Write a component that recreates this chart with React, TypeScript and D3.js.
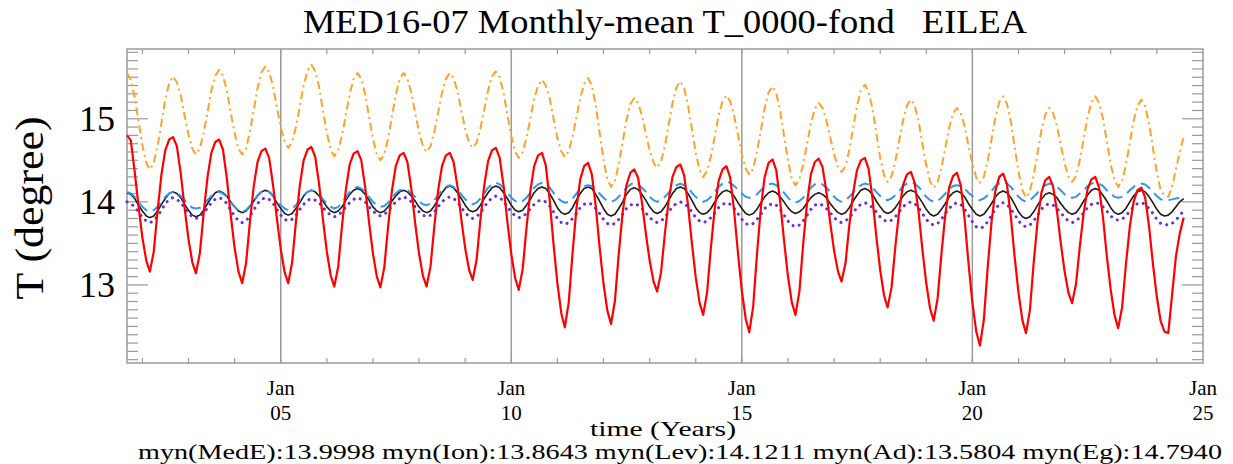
import React, { useRef, useEffect } from 'react';
import * as d3 from 'd3';

// monthly means, first value = Sep 2001, last = Aug 2024
const startMonth = new Date(2001, 8, 1);

// myn(Ad) - red solid
const adValues = [
  14.80, 14.74, 14.36, 13.95,
  13.57, 13.29, 13.16, 13.40, 13.89, 14.33, 14.62, 14.75, 14.78, 14.67, 14.34, 13.93,
  13.55, 13.27, 13.14, 13.38, 13.86, 14.30, 14.59, 14.72, 14.75, 14.63, 14.28, 13.85,
  13.45, 13.16, 13.02, 13.26, 13.75, 14.19, 14.48, 14.61, 14.64, 14.53, 14.20, 13.80,
  13.43, 13.15, 13.02, 13.27, 13.76, 14.20, 14.50, 14.63, 14.66, 14.54, 14.21, 13.79,
  13.40, 13.11, 12.98, 13.22, 13.71, 14.15, 14.45, 14.58, 14.61, 14.50, 14.17, 13.76,
  13.38, 13.10, 12.97, 13.21, 13.70, 14.14, 14.43, 14.56, 14.59, 14.48, 14.16, 13.75,
  13.38, 13.11, 12.98, 13.22, 13.70, 14.14, 14.43, 14.56, 14.59, 14.48, 14.18, 13.79,
  13.44, 13.18, 13.06, 13.30, 13.78, 14.20, 14.49, 14.62, 14.65, 14.53, 14.19, 13.76,
  13.37, 13.08, 12.94, 13.19, 13.68, 14.13, 14.43, 14.56, 14.59, 14.44, 14.02, 13.50,
  13.02, 12.66, 12.49, 12.79, 13.38, 13.92, 14.27, 14.43, 14.47, 14.33, 13.95, 13.46,
  13.02, 12.69, 12.53, 12.81, 13.37, 13.87, 14.20, 14.35, 14.39, 14.29, 13.99, 13.63,
  13.29, 13.04, 12.92, 13.15, 13.61, 14.02, 14.30, 14.42, 14.45, 14.32, 13.96, 13.51,
  13.09, 12.78, 12.64, 12.91, 13.45, 13.93, 14.25, 14.39, 14.43, 14.29, 13.89, 13.39,
  12.93, 12.59, 12.43, 12.74, 13.37, 13.93, 14.30, 14.47, 14.51, 14.38, 14.00, 13.54,
  13.11, 12.79, 12.64, 12.92, 13.49, 13.99, 14.33, 14.48, 14.52, 14.42, 14.12, 13.75,
  13.41, 13.16, 13.04, 13.26, 13.71, 14.11, 14.38, 14.50, 14.53, 14.40, 14.04, 13.59,
  13.18, 12.87, 12.73, 12.97, 13.46, 13.90, 14.20, 14.33, 14.36, 14.23, 13.88, 13.43,
  13.02, 12.71, 12.57, 12.84, 13.37, 13.85, 14.17, 14.31, 14.35, 14.20, 13.79, 13.27,
  12.79, 12.44, 12.27, 12.58, 13.20, 13.76, 14.13, 14.30, 14.34, 14.21, 13.82, 13.34,
  12.90, 12.57, 12.42, 12.70, 13.27, 13.77, 14.11, 14.26, 14.30, 14.19, 13.89, 13.51,
  13.16, 12.90, 12.78, 13.01, 13.46, 13.87, 14.15, 14.27, 14.30, 14.17, 13.81, 13.35,
  12.94, 12.63, 12.48, 12.73, 13.24, 13.70, 14.00, 14.14, 14.17, 14.05, 13.70, 13.26,
  12.86, 12.56, 12.44, 12.42, 12.88, 13.35, 13.62, 13.81,
];

// myn(Eg) - orange dash-dot
const egValues = [
  15.55, 15.47, 15.26, 14.97,
  14.68, 14.47, 14.39, 14.47, 14.67, 14.95, 15.23, 15.43, 15.51, 15.44, 15.28, 15.04,
  14.81, 14.64, 14.57, 14.64, 14.83, 15.08, 15.34, 15.52, 15.59, 15.52, 15.34, 15.08,
  14.83, 14.64, 14.57, 14.64, 14.84, 15.10, 15.37, 15.56, 15.63, 15.56, 15.39, 15.14,
  14.90, 14.72, 14.65, 14.72, 14.90, 15.15, 15.40, 15.58, 15.65, 15.57, 15.38, 15.10,
  14.83, 14.63, 14.55, 14.62, 14.80, 15.05, 15.30, 15.48, 15.55, 15.48, 15.29, 15.03,
  14.76, 14.57, 14.50, 14.57, 14.76, 15.03, 15.29, 15.48, 15.55, 15.48, 15.31, 15.08,
  14.84, 14.67, 14.60, 14.67, 14.84, 15.08, 15.31, 15.48, 15.55, 15.49, 15.33, 15.10,
  14.88, 14.71, 14.65, 14.71, 14.88, 15.11, 15.34, 15.51, 15.57, 15.50, 15.31, 15.05,
  14.79, 14.60, 14.53, 14.60, 14.77, 15.00, 15.24, 15.40, 15.47, 15.40, 15.24, 15.01,
  14.77, 14.61, 14.54, 14.61, 14.78, 15.02, 15.25, 15.42, 15.49, 15.40, 15.16, 14.84,
  14.51, 14.27, 14.18, 14.25, 14.45, 14.72, 14.98, 15.18, 15.25, 15.19, 15.04, 14.83,
  14.62, 14.47, 14.41, 14.48, 14.67, 14.93, 15.19, 15.38, 15.45, 15.37, 15.16, 14.88,
  14.59, 14.38, 14.30, 14.37, 14.55, 14.79, 15.04, 15.21, 15.28, 15.21, 15.04, 14.81,
  14.57, 14.40, 14.33, 14.40, 14.60, 14.86, 15.13, 15.32, 15.39, 15.31, 15.09, 14.80,
  14.50, 14.28, 14.20, 14.27, 14.45, 14.70, 14.94, 15.12, 15.19, 15.13, 14.98, 14.78,
  14.57, 14.42, 14.36, 14.43, 14.62, 14.89, 15.15, 15.34, 15.41, 15.33, 15.12, 14.83,
  14.53, 14.32, 14.24, 14.31, 14.49, 14.74, 14.98, 15.16, 15.23, 15.16, 14.97, 14.70,
  14.44, 14.24, 14.17, 14.24, 14.41, 14.65, 14.89, 15.06, 15.13, 15.07, 14.91, 14.68,
  14.46, 14.29, 14.23, 14.30, 14.49, 14.75, 15.01, 15.20, 15.27, 15.18, 14.97, 14.66,
  14.36, 14.14, 14.05, 14.13, 14.32, 14.59, 14.86, 15.05, 15.13, 15.07, 14.91, 14.69,
  14.46, 14.30, 14.24, 14.31, 14.50, 14.76, 15.01, 15.20, 15.27, 15.19, 15.00, 14.73,
  14.45, 14.26, 14.18, 14.25, 14.44, 14.71, 14.97, 15.16, 15.23, 15.15, 14.94, 14.65,
  14.35, 14.14, 14.08, 14.06, 14.18, 14.40, 14.60, 14.78,
];

// myn(MedE) - black solid
const medEValues = [
  14.11, 14.09, 14.04, 13.96,
  13.89, 13.83, 13.81, 13.83, 13.89, 13.97, 14.04, 14.10, 14.12, 14.10, 14.05, 13.97,
  13.90, 13.84, 13.82, 13.84, 13.90, 13.98, 14.05, 14.11, 14.13, 14.11, 14.07, 14.00,
  13.94, 13.89, 13.87, 13.89, 13.94, 14.01, 14.07, 14.12, 14.14, 14.12, 14.07, 13.99,
  13.92, 13.86, 13.84, 13.86, 13.92, 13.99, 14.07, 14.12, 14.14, 14.12, 14.07, 14.01,
  13.94, 13.89, 13.87, 13.89, 13.94, 14.02, 14.09, 14.14, 14.16, 14.14, 14.09, 14.02,
  13.94, 13.89, 13.87, 13.89, 13.94, 14.01, 14.07, 14.12, 14.14, 14.12, 14.07, 14.01,
  13.94, 13.89, 13.87, 13.89, 13.95, 14.03, 14.11, 14.17, 14.19, 14.17, 14.11, 14.04,
  13.96, 13.90, 13.88, 13.90, 13.96, 14.04, 14.11, 14.17, 14.19, 14.17, 14.11, 14.04,
  13.96, 13.90, 13.88, 13.90, 13.96, 14.03, 14.11, 14.16, 14.18, 14.16, 14.10, 14.02,
  13.93, 13.87, 13.85, 13.87, 13.93, 14.02, 14.10, 14.16, 14.18, 14.16, 14.09, 14.01,
  13.92, 13.85, 13.83, 13.85, 13.92, 14.00, 14.09, 14.15, 14.17, 14.15, 14.09, 14.02,
  13.94, 13.88, 13.86, 13.88, 13.94, 14.02, 14.10, 14.16, 14.18, 14.16, 14.10, 14.02,
  13.93, 13.87, 13.85, 13.87, 13.92, 14.00, 14.07, 14.12, 14.14, 14.12, 14.07, 13.99,
  13.92, 13.86, 13.84, 13.86, 13.91, 13.99, 14.06, 14.11, 14.13, 14.11, 14.06, 14.00,
  13.93, 13.88, 13.86, 13.88, 13.92, 13.99, 14.05, 14.09, 14.11, 14.09, 14.05, 13.98,
  13.92, 13.87, 13.85, 13.87, 13.93, 14.01, 14.08, 14.14, 14.16, 14.14, 14.09, 14.01,
  13.94, 13.88, 13.86, 13.88, 13.93, 14.00, 14.07, 14.12, 14.14, 14.12, 14.06, 13.99,
  13.91, 13.85, 13.83, 13.85, 13.91, 13.98, 14.06, 14.11, 14.13, 14.11, 14.06, 13.98,
  13.91, 13.85, 13.83, 13.85, 13.91, 13.98, 14.06, 14.11, 14.13, 14.11, 14.05, 13.97,
  13.88, 13.82, 13.80, 13.82, 13.88, 13.96, 14.03, 14.09, 14.11, 14.09, 14.05, 13.98,
  13.92, 13.87, 13.85, 13.87, 13.93, 14.01, 14.08, 14.14, 14.16, 14.14, 14.08, 14.01,
  13.93, 13.87, 13.85, 13.87, 13.92, 14.00, 14.07, 14.12, 14.14, 14.12, 14.06, 13.99,
  13.91, 13.85, 13.83, 13.84, 13.88, 13.94, 14.00, 14.04,
];

// myn(Lev) - blue dashed
const levValues = [
  14.12, 14.10, 14.06, 14.00,
  13.94, 13.90, 13.88, 13.90, 13.94, 14.00, 14.06, 14.10, 14.12, 14.11, 14.07, 14.02,
  13.97, 13.93, 13.92, 13.93, 13.97, 14.02, 14.07, 14.11, 14.12, 14.10, 14.06, 14.00,
  13.94, 13.90, 13.88, 13.90, 13.95, 14.01, 14.08, 14.12, 14.14, 14.12, 14.08, 14.02,
  13.96, 13.92, 13.90, 13.92, 13.96, 14.02, 14.08, 14.12, 14.14, 14.12, 14.09, 14.03,
  13.98, 13.94, 13.92, 13.94, 13.99, 14.05, 14.12, 14.16, 14.18, 14.16, 14.12, 14.06,
  14.00, 13.96, 13.94, 13.95, 13.99, 14.05, 14.10, 14.14, 14.15, 14.14, 14.10, 14.06,
  14.01, 13.97, 13.96, 13.98, 14.02, 14.08, 14.14, 14.18, 14.20, 14.18, 14.14, 14.09,
  14.03, 13.99, 13.97, 13.99, 14.04, 14.10, 14.17, 14.21, 14.23, 14.21, 14.17, 14.11,
  14.05, 14.01, 13.99, 14.01, 14.05, 14.11, 14.17, 14.21, 14.23, 14.21, 14.17, 14.11,
  14.05, 14.01, 13.99, 14.00, 14.04, 14.10, 14.15, 14.19, 14.20, 14.19, 14.15, 14.10,
  14.05, 14.01, 14.00, 14.02, 14.06, 14.12, 14.17, 14.21, 14.23, 14.21, 14.17, 14.12,
  14.06, 14.02, 14.00, 14.02, 14.06, 14.11, 14.17, 14.20, 14.22, 14.20, 14.17, 14.11,
  14.06, 14.02, 14.00, 14.02, 14.06, 14.12, 14.18, 14.22, 14.24, 14.23, 14.19, 14.15,
  14.10, 14.06, 14.05, 14.06, 14.09, 14.14, 14.18, 14.21, 14.22, 14.20, 14.16, 14.11,
  14.05, 14.01, 13.99, 14.01, 14.05, 14.11, 14.17, 14.21, 14.23, 14.21, 14.17, 14.12,
  14.06, 14.02, 14.00, 14.02, 14.06, 14.11, 14.17, 14.20, 14.22, 14.21, 14.17, 14.12,
  14.07, 14.03, 14.02, 14.04, 14.08, 14.13, 14.19, 14.22, 14.24, 14.22, 14.18, 14.12,
  14.06, 14.02, 14.00, 14.01, 14.05, 14.10, 14.15, 14.19, 14.20, 14.19, 14.16, 14.11,
  14.07, 14.03, 14.02, 14.04, 14.08, 14.13, 14.19, 14.22, 14.24, 14.22, 14.18, 14.12,
  14.06, 14.02, 14.00, 14.02, 14.06, 14.11, 14.17, 14.20, 14.22, 14.21, 14.18, 14.14,
  14.09, 14.06, 14.05, 14.06, 14.10, 14.14, 14.19, 14.22, 14.23, 14.22, 14.19, 14.14,
  14.10, 14.06, 14.05, 14.06, 14.09, 14.14, 14.18, 14.21, 14.22, 14.21, 14.17, 14.12,
  14.07, 14.03, 14.02, 14.02, 14.03, 14.04, 14.05, 14.06,
];

// myn(Ion) - purple dotted
const ionValues = [
  14.00, 13.98, 13.94, 13.88,
  13.81, 13.77, 13.75, 13.77, 13.83, 13.90, 13.98, 14.03, 14.05, 14.03, 13.99, 13.93,
  13.86, 13.82, 13.80, 13.82, 13.86, 13.93, 13.99, 14.03, 14.05, 14.03, 13.98, 13.90,
  13.83, 13.77, 13.75, 13.77, 13.83, 13.90, 13.98, 14.03, 14.05, 14.03, 13.98, 13.91,
  13.84, 13.79, 13.77, 13.79, 13.84, 13.91, 13.97, 14.02, 14.04, 14.02, 13.99, 13.93,
  13.88, 13.84, 13.82, 13.84, 13.88, 13.94, 13.99, 14.03, 14.05, 14.03, 14.00, 13.94,
  13.89, 13.85, 13.83, 13.85, 13.89, 13.95, 14.00, 14.04, 14.06, 14.04, 14.00, 13.94,
  13.88, 13.84, 13.82, 13.84, 13.88, 13.94, 14.00, 14.04, 14.06, 14.04, 14.00, 13.93,
  13.87, 13.82, 13.80, 13.82, 13.87, 13.94, 14.00, 14.05, 14.07, 14.05, 14.01, 13.94,
  13.88, 13.83, 13.81, 13.82, 13.86, 13.92, 13.97, 14.01, 14.02, 14.00, 13.95, 13.88,
  13.80, 13.75, 13.73, 13.75, 13.80, 13.86, 13.93, 13.97, 13.99, 13.97, 13.92, 13.86,
  13.79, 13.74, 13.72, 13.74, 13.79, 13.85, 13.92, 13.96, 13.98, 13.96, 13.92, 13.87,
  13.81, 13.77, 13.75, 13.77, 13.81, 13.88, 13.94, 13.98, 14.00, 13.98, 13.94, 13.88,
  13.81, 13.77, 13.75, 13.77, 13.81, 13.87, 13.93, 13.97, 13.99, 13.97, 13.92, 13.86,
  13.79, 13.74, 13.72, 13.74, 13.79, 13.85, 13.92, 13.96, 13.98, 13.96, 13.91, 13.84,
  13.77, 13.72, 13.70, 13.72, 13.77, 13.84, 13.91, 13.96, 13.98, 13.96, 13.92, 13.87,
  13.81, 13.77, 13.75, 13.77, 13.81, 13.87, 13.93, 13.97, 13.99, 13.97, 13.93, 13.88,
  13.82, 13.78, 13.76, 13.78, 13.82, 13.88, 13.94, 13.98, 14.00, 13.98, 13.93, 13.86,
  13.79, 13.74, 13.72, 13.74, 13.79, 13.86, 13.92, 13.97, 13.99, 13.97, 13.91, 13.84,
  13.76, 13.70, 13.68, 13.70, 13.76, 13.84, 13.91, 13.97, 13.99, 13.97, 13.91, 13.85,
  13.77, 13.72, 13.70, 13.72, 13.77, 13.84, 13.91, 13.96, 13.98, 13.96, 13.92, 13.87,
  13.81, 13.77, 13.75, 13.77, 13.81, 13.87, 13.93, 13.97, 13.99, 13.98, 13.94, 13.89,
  13.83, 13.79, 13.78, 13.79, 13.83, 13.89, 13.94, 13.98, 13.99, 13.97, 13.92, 13.86,
  13.79, 13.74, 13.73, 13.72, 13.74, 13.78, 13.84, 13.89,
];

const yTicks = [13, 14, 15];
const xLabelYears = [2005, 2010, 2015, 2020, 2025];
const gridYears = [2005, 2010, 2015, 2020];
const footerText = 'myn(MedE):13.9998 myn(Ion):13.8643 myn(Lev):14.1211 myn(Ad):13.5804 myn(Eg):14.7940';
const titleText = 'MED16-07 Monthly-mean T_0000-fond\u00a0\u00a0\u00a0EILEA';

export default function App() {
  const svgRef = useRef<SVGSVGElement>(null);

  useEffect(() => {
    if (!svgRef.current) return;
    const svg = d3.select(svgRef.current);
    svg.selectAll('*').remove();

    const width = 1233;
    const height = 464;
    const plot = { left: 127, right: 1203, top: 49, bottom: 363 };
    const font = 'Liberation Serif, Times New Roman, serif';
    const axisGray = '#9a9a9a';

    const x = d3.scaleTime()
      .domain([startMonth, new Date(2025, 0, 1)])
      .range([plot.left, plot.right]);
    const y = d3.scaleLinear()
      .domain([12.06, 15.84])
      .range([plot.bottom, plot.top]);

    svg.attr('width', width).attr('height', height);

    svg.append('rect')
      .attr('width', width).attr('height', height).attr('fill', '#fff');

    // vertical lines at Jan 05/10/15/20
    svg.append('g')
      .selectAll('line')
      .data(gridYears)
      .enter()
      .append('line')
      .attr('x1', d => x(new Date(d, 0, 1)))
      .attr('x2', d => x(new Date(d, 0, 1)))
      .attr('y1', plot.top)
      .attr('y2', plot.bottom)
      .attr('stroke', axisGray)
      .attr('stroke-width', 1.5);

    // yearly minor ticks, top and bottom
    const yearTicks = d3.range(2002, 2025).map(yr => new Date(yr, 0, 1));
    const xt = svg.append('g').attr('stroke', axisGray).attr('stroke-width', 1.2);
    yearTicks.forEach(d => {
      xt.append('line').attr('x1', x(d)).attr('x2', x(d)).attr('y1', plot.bottom).attr('y2', plot.bottom - 5);
      xt.append('line').attr('x1', x(d)).attr('x2', x(d)).attr('y1', plot.top).attr('y2', plot.top + 5);
    });

    // y ticks on both sides: minor every 0.1, major on integers
    const minor = d3.range(121, 159).map(v => v / 10);
    const yt = svg.append('g').attr('stroke', axisGray).attr('stroke-width', 1.2);
    minor.forEach(v => {
      const len = yTicks.includes(Math.round(v * 10) / 10) ? 21 : 11;
      yt.append('line').attr('x1', plot.left).attr('x2', plot.left + len).attr('y1', y(v)).attr('y2', y(v));
      yt.append('line').attr('x1', plot.right).attr('x2', plot.right - len).attr('y1', y(v)).attr('y2', y(v));
    });

    // frame
    svg.append('rect')
      .attr('x', plot.left)
      .attr('y', plot.top)
      .attr('width', plot.right - plot.left)
      .attr('height', plot.bottom - plot.top)
      .attr('fill', 'none')
      .attr('stroke', axisGray)
      .attr('stroke-width', 1.5);

    const dates = adValues.map((_, i) => d3.timeMonth.offset(startMonth, i));
    const line = d3.line<number>()
      .x((_, i) => x(dates[i]))
      .y(d => y(d));

    const series = [
      { values: medEValues, color: '#1a1a1a', width: 1.6, dash: null, cap: 'butt' },
      { values: ionValues, color: '#6a2fdc', width: 3, dash: '0.1 6.5', cap: 'round' },
      { values: levValues, color: '#2f97f0', width: 2, dash: '11 6', cap: 'butt' },
      { values: adValues, color: '#ff0000', width: 2.2, dash: null, cap: 'butt' },
      { values: egValues, color: '#ffa22a', width: 2, dash: '8 4 2 4', cap: 'butt' },
    ];

    svg.append('g')
      .selectAll('path')
      .data(series)
      .enter()
      .append('path')
      .attr('d', d => line(d.values))
      .attr('fill', 'none')
      .attr('stroke', d => d.color)
      .attr('stroke-width', d => d.width)
      .attr('stroke-dasharray', d => d.dash)
      .attr('stroke-linecap', d => d.cap)
      .attr('stroke-linejoin', 'round');

    const addText = (sel, txt, attrs) => {
      const t = sel.append('text').style('font-family', font).text(txt);
      Object.entries(attrs).forEach(([k, v]) => t.attr(k, v));
      return t;
    };

    // title
    addText(svg, titleText, {
      x: (plot.left + plot.right) / 2, y: 33, 'text-anchor': 'middle',
      'font-size': 33, textLength: 724, lengthAdjust: 'spacingAndGlyphs',
    });

    // y tick labels
    yTicks.forEach(v => {
      addText(svg, String(v), { x: 115, y: y(v) + 12, 'text-anchor': 'end', 'font-size': 36 });
    });

    // y title
    addText(svg, 'T (degree)', {
      transform: 'translate(43,208) rotate(-90)', 'text-anchor': 'middle',
      'font-size': 40, textLength: 183, lengthAdjust: 'spacingAndGlyphs',
    });

    // x tick labels (two lines: month, two-digit year)
    xLabelYears.forEach(yr => {
      const px = x(new Date(yr, 0, 1));
      addText(svg, 'Jan', { x: px, y: 395, 'text-anchor': 'middle', 'font-size': 21 });
      addText(svg, d3.timeFormat('%y')(new Date(yr, 0, 1)), { x: px, y: 420, 'text-anchor': 'middle', 'font-size': 21 });
    });

    addText(svg, 'time (Years)', {
      x: 663, y: 436, 'text-anchor': 'middle', 'font-size': 22,
      textLength: 146, lengthAdjust: 'spacingAndGlyphs',
    });

    addText(svg, footerText, {
      x: 680, y: 459, 'text-anchor': 'middle', 'font-size': 22,
      textLength: 1084, lengthAdjust: 'spacingAndGlyphs',
    });
  }, []);

  return (
    <svg ref={svgRef} style={{ position: 'absolute', left: 0, top: 0, display: 'block' }} />
  );
}
